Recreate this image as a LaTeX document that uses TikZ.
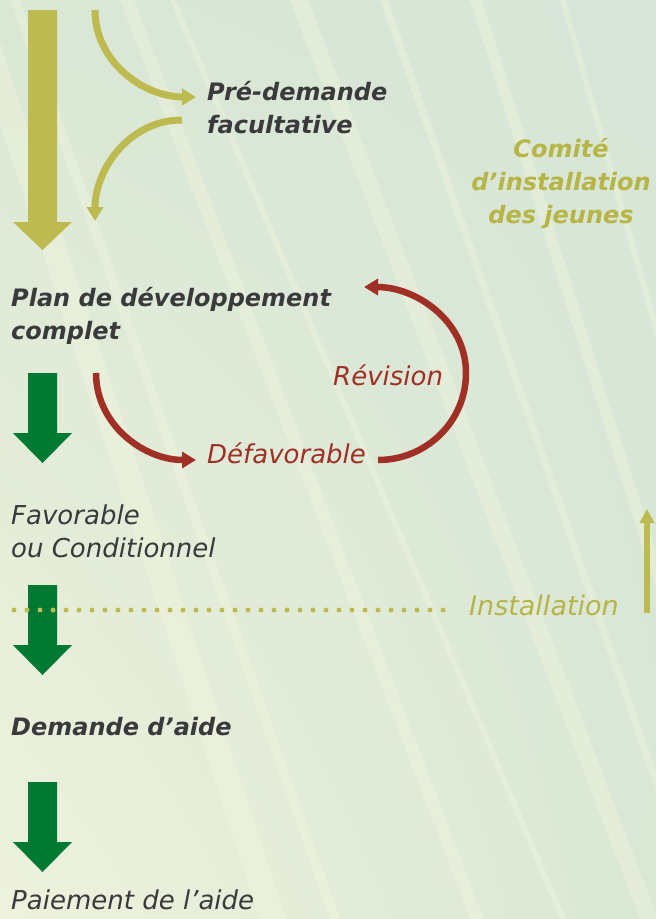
\documentclass[tikz,border=0pt]{standalone}
\usepackage{fontspec}
\setmainfont{DejaVu Sans}
\usetikzlibrary{arrows.meta,shadings}

\definecolor{bgtop}{RGB}{218,231,213}
\definecolor{bgright}{RGB}{214,229,216}
\definecolor{bgcream}{RGB}{238,242,220}
\definecolor{streak}{RGB}{246,248,222}
\definecolor{olivetone}{RGB}{189,187,79}
\definecolor{oliveword}{RGB}{183,181,70}
\definecolor{greentone}{RGB}{0,122,51}
\definecolor{redtone}{RGB}{160,48,38}
\definecolor{darkword}{RGB}{58,58,60}

\begin{document}
\begin{tikzpicture}[x=1pt,y=1pt,
    steptext/.style={inner sep=0pt,anchor=west,align=left,text=darkword,
        font=\fontsize{26}{33}\selectfont\itshape},
    strongtext/.style={steptext,font=\fontsize{24}{33}\selectfont\bfseries\itshape},
    olivecurve/.style={draw=olivetone,line width=7pt,-{Triangle[length=14pt,width=16pt]}},
    redcurve/.style={draw=redtone,line width=6.5pt,-{Triangle[length=14pt,width=16pt]}}]
    \useasboundingbox (0,0) rectangle (656,-919);
    \shade[upper left=bgtop,upper right=bgright,lower left=bgcream,lower right=bgtop]
        (0,0) rectangle (656,-919);
    \foreach \a/\b/\w in {-40/260/26,10/330/10,120/470/14,170/560/6,290/640/18,380/700/8,470/760/12,560/820/6}
        \fill[streak,opacity=0.35] (\a,0) -- (\a+\w,0) -- (\b+\w,-919) -- (\b,-919) -- cycle;

    % main arrows
    \fill[olivetone] (28,-10) -- (57,-10) -- (57,-222) -- (72,-222) -- (42.5,-250) -- (13,-222) -- (28,-222) -- cycle;
    \foreach \t in {373,585,782}
        \fill[greentone] (28,-\t) -- (57,-\t) -- (57,-\t-60) -- (72,-\t-60) -- (42.5,-\t-90) -- (13,-\t-60) -- (28,-\t-60) -- cycle;

    \node[strongtext] (predemande) at (207,-108) {Pré-demande\\facultative};
    \node[strongtext,anchor=center,align=center,text=oliveword] (comite) at (561,-183) {Comité\\d’installation\\des jeunes};
    \node[strongtext] (plan) at (11,-316) {Plan de développement\\complet};
    \node[steptext,text=redtone] (defavorable) at (207,-453) {Défavorable};
    \node[steptext,text=redtone] (revision) at (333,-375) {Révision};
    \node[steptext] (favorable) at (11,-531) {Favorable\\ou Conditionnel};
    \node[steptext,text=oliveword,font=\fontsize{27}{33}\selectfont\itshape] (installation) at (469,-605) {Installation};
    \node[strongtext] (demande) at (11,-727) {Demande d’aide};
    \node[steptext] (paiement) at (11,-900) {Paiement de l’aide};

    \coordinate (pre-in) at (95,-10);
    \coordinate (pre-to) at (196,-97);
    \coordinate (pre-from) at (182,-120);
    \coordinate (pre-out) at (95,-221);
    \coordinate (def-in) at (96,-373);
    \coordinate (def-to) at (196,-460);
    \coordinate (rev-from) at (378,-460);
    \coordinate (rev-side) at (466,-373);
    \coordinate (rev-to) at (364,-287);
    \coordinate (dots-start) at (14,-610);
    \coordinate (dots-end) at (452,-610);
    \coordinate (inst-low) at (647,-613);
    \coordinate (inst-high) at (647,-509);

    \draw[olivecurve] (pre-in) to[out=-90,in=180] (pre-to);
    \draw[olivecurve] (pre-from) to[out=180,in=90] (pre-out);
    \draw[redcurve] (def-in) to[out=-90,in=180] (def-to);
    \draw[redcurve] (rev-from) to[out=0,in=-90] (rev-side) to[out=90,in=0] (rev-to);
    \draw[olivetone,line width=5pt,line cap=round,dash pattern=on 0pt off 13pt] (dots-start) -- (dots-end);
    \draw[olivetone,line width=6pt,-{Triangle[length=14pt,width=14pt]}] (inst-low) -- (inst-high);
\end{tikzpicture}
\end{document}
